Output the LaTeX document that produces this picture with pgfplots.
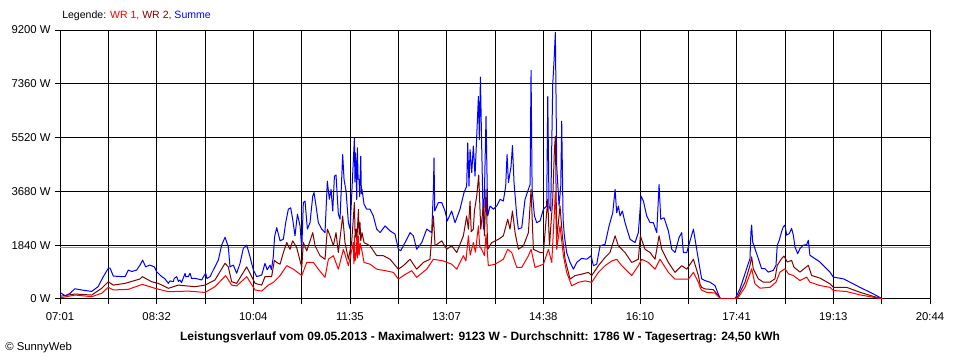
\documentclass[border=0pt]{standalone}
\usepackage{fontspec}
\setmainfont{Liberation Sans}
\usepackage{pgfplots}
\pgfplotsset{compat=1.18}
\definecolor{wrone}{RGB}{255,0,0}
\definecolor{wrtwo}{RGB}{128,0,0}
\definecolor{summe}{RGB}{0,0,255}
\definecolor{avg}{RGB}{150,150,150}
\begin{document}
\fontsize{8.5pt}{10pt}\selectfont
\begin{tikzpicture}
\path[use as bounding box] (0,0) rectangle (720pt,270pt);
\begin{axis}[
  at={(45pt,45.75pt)}, anchor=south west,
  scale only axis, width=652.5pt, height=201.75pt,
  xmin=0, xmax=823, ymin=0, ymax=9200,
  xtick={0,45.72,91.44,137.17,182.89,228.61,274.33,320.06,365.78,411.5,457.22,502.94,548.67,594.39,640.11,685.83,731.56,777.28,823},
  xticklabels={07:01,{},08:32,{},10:04,{},11:35,{},13:07,{},14:38,{},16:10,{},17:41,{},19:13,{},20:44},
  ytick={0,1840,3680,5520,7360,9200},
  yticklabels={0 W,1840 W,3680 W,5520 W,7360 W,9200 W},
  grid=major, major grid style={black, line width=0.75pt},
  axis line style={black, line width=0.75pt},
  tick align=outside, major tick length=4pt, tick style={black, line width=0.75pt},
  tick pos=left,
  tick label style={font=\fontsize{8.5pt}{10pt}\selectfont},
  xticklabel style={yshift=-3pt},
  every axis plot/.append style={line width=0.75pt, mark=none, line join=round},
]
\addplot[avg, line width=0.6pt, yshift=-0.6pt] coordinates {(0,1786) (823,1786)};
% Summe
\addplot[summe] coordinates {
(1,200)(5,110)(9.5,195)(14,350)(22,300)(30,260)(36,420)(41,765)(45.7,1050)(47.3,1060)(50.4,785)(56,770)(61.5,765)(64.6,990)(68,940)(72.5,990)(75.7,1160)(78.2,1330)(81,1100)(85,1160)(89.2,1100)(91.4,935)(96.2,765)(99,700)(102.5,535)(104,620)(107.2,590)(108,700)(110.4,765)(112,600)(113.5,650)(115,560)(118.3,880)(119,760)(121.4,765)(123,880)(124.5,700)(127.7,705)(131,680)(134,650)(136,780)(137.8,880)(139,700)(141.9,765)(145,990)(149.8,1330)(152.9,1845)(156.1,2110)(159.2,1790)(160.8,1100)(164,1160)(167.1,880)(170.3,1220)(173.4,1730)(176.6,1845)(179.7,1450)(182.9,990)(186.1,765)(190.8,820)(193.9,1220)(196,1000)(198.7,1160)(200,1000)(201.8,1450)(203,2130)
(205,2440)(208.2,1990)(211.3,2045)(213.5,2610)(216,3070)(218.2,3120)(220.1,2730)(222.3,2160)(224.6,2900)(227.1,2500)(228.7,1700)(230.2,3300)(231.8,3350)(234,2390)(236.5,2610)(239.1,3520)(240.3,3640)(242.2,3180)(244.4,2610)(247.6,2390)(250.7,2270)(252.9,4030)(254.8,3410)(256.4,3750)(258,3010)(259.6,4200)(261.1,4240)(263.3,2900)(264.9,2730)(267.4,4940)(268.7,4090)(270.6,3690)(272.8,2610)(274.4,2390)(275.9,3520)(278.5,5510)(279,4000)(279.5,5000)(280.1,4430)(280.7,3400)(281.3,5170)(282,4100)(282.9,4090)(283.5,3500)(284.5,4880)(285.1,3600)(285.7,3750)(287.6,3240)(290.1,3070)(293.3,3070)(296.4,2840)(299.6,2390)(302.8,2270)(307.5,2500)(312.2,2330)(316.9,2220)(320.1,1700)(322.3,1650)(326.4,1930)(331.1,2270)(334.3,2160)(337.4,1700)(342.2,1930)(346.9,2390)(351.6,2270)(353.2,3690)(353.8,4830)(354.5,3010)(357.9,3300)(361.1,3300)(364.2,3010)(366.4,2670)(370.5,3010)(373.7,2610)(378.4,3070)(382.2,3640)(384.7,3860)(385.7,5340)(386.9,3860)(387.9,5110)(389.5,4320)(391,5230)(392.6,4200)(394.2,5570)(395.8,6930)(396.7,5450)(397.7,7590)(398.9,5230)(400.5,2390)(401.5,3640)
(403,6250)(404.6,2840)(406.8,3180)(410,3070)(413.1,3180)(416.3,3410)(419.4,3350)(421.6,3860)(422.9,4940)(424.2,3980)(426.7,4540)(428,5250)(429.5,3980)(432.1,2840)(433.6,2390)(436.8,2440)(439.9,3410)(443.1,3750)(444.7,3920)(445.6,7820)(446.6,3750)(448.8,2840)(451,2610)(454.1,2670)(457.3,3070)(460.4,3180)(461.4,6930)(462.6,3180)(464.2,3010)(466.1,7330)(467.4,8180)(468.6,9123)(469.9,4540)(472.1,3180)(473.7,3860)(474.6,6080)(475.9,2730)(477.1,2160)(479.3,1590)(482.5,1250)(485.7,1020)(488.8,1250)(493.5,1390)(498.3,1360)(502.4,1480)(504.6,1140)(507.7,1190)(510.9,1820)(515.6,1870)(519.4,2500)(522.9,2950)(525.1,3750)(526.6,2950)(528.2,3180)(529.8,2840)(532,3010)(534.5,2610)(539.3,2040)(544,1930)(547.1,2270)(549.7,3520)(551.9,3350)(555,2840)(558.2,2610)(561.3,2610)(564.5,2270)(566.7,3920)(568.3,2730)(571.4,2780)(575.5,2330)(578.7,1700)(581.8,1590)(585.6,2100)(588.1,2270)(589.7,1590)(592.9,1590)(596,1990)(599.2,2390)(602.3,1700)(605.5,1000)
(607,690)(610.1,630)(614.9,575)(619.6,460)(622.7,170)(624.9,0)(638.5,0)(640.1,115)(643.2,345)(646.4,690)(649.5,1035)(652.7,1380)(653.6,2300)(654.3,2530)(655.2,1955)(657.4,1725)(660.6,1380)(663.7,1035)(666.9,1035)(670,920)(674.8,980)(677.3,1150)(678.5,1840)(680.4,2010)(682.6,2300)(684.2,2470)(685.8,2530)(687.4,2185)(689.9,2240)(692.1,2415)(693.7,2185)(695.3,1780)(697.8,1550)(700,1725)(703.1,1840)(706.3,1860)(707.9,2010)(709.4,1495)(714.2,1380)(718.9,1265)(723.6,1090)(728.4,920)(731.5,750)(741,690)(747.3,575)(756.7,400)(766.2,230)(772.5,115)(778.2,0)
};
% WR 2
\addplot[wrtwo] coordinates {
(1,100)(14.2,170)(30,135)(39.4,365)(45.7,590)(50.4,475)(61.5,535)(75.7,685)(77.9,765)(86.7,590)(93,535)(102.5,365)(111.9,475)(127.7,420)(137.2,475)(146.6,650)(156.1,1220)(159.2,1100)(162.4,590)(167.1,535)(176.6,1100)(179.7,880)(184.5,535)(190.8,475)(193.9,765)(200.2,765)(202.8,1320)
(205,1250)(208.2,1190)(211.3,1590)(214.5,1930)(217.6,1700)(220.1,1990)(223.9,1760)(228.7,1080)(230.2,1930)(233.4,1650)(239.1,2270)(241.3,1820)(246,1480)(250.7,1360)(252.9,2390)(255.5,2160)(258.6,1820)(261.1,2270)(263.3,1590)(267.4,2840)(269.6,1930)(272.8,1360)(275.9,1930)(278.5,3300)(279.2,2100)(280.1,2390)(280.8,2000)(282.3,3070)(283,2200)(283.8,2610)(284.5,2000)(285.7,2270)(287.6,1930)(293.3,1820)(299.6,1480)(305.9,1480)(312.2,1360)(320.1,1020)(324.8,1140)(331.1,1360)(337.4,1020)(343.7,1250)(350,1360)(353.2,2840)(354.8,1820)(361.1,1990)(365.8,1700)(370.5,1820)(375.3,1590)(381.6,2160)(384.7,2840)(386.3,2390)(387.9,3350)(389,2300)(391,2390)(392,3000)(394.2,3520)(396.1,4240)(398,2390)(400.5,3180)(401.5,2160)
(403,3750)(404.6,1700)(408.4,1930)(414.7,2040)(419.4,2160)(423.5,2730)(425.7,2390)(428,3010)(430.5,2270)(433.6,1700)(438.4,1820)(443.1,2270)(445.6,3750)(447.8,1700)(454.1,1590)(457.3,1590)(461.4,3410)(463,1820)(466.1,3410)(467.7,5110)(468.6,5570)(469.9,2040)(473,3180)(475.2,2160)(477.8,1360)(482.5,680)(487.2,800)(493.5,850)(499.8,910)(503,800)(509.3,1140)(515.6,1420)(520.3,1590)(525.1,2160)(528.2,1820)(534.5,1590)(540.8,1250)(547.1,1360)(549,2160)(553.4,1700)(558.2,1590)(562.9,1360)(566.7,2160)(569.2,1700)(575.5,1250)(581.8,910)(588.1,1140)(592.9,1020)(599.2,1360)(603.9,800)(605.5,500)
(607,400)(610.1,345)(618,320)(622.7,115)(624.9,0)(638.5,0)(641.7,115)(648,575)(652.7,1150)(654.3,1440)(655.8,1035)(660.6,690)(665.3,575)(671.6,575)(676.3,690)(678.5,1150)(682.6,1380)(684.9,1470)(688,1265)(692.1,1320)(694.3,1090)(700,920)(704.7,1060)(707.9,1150)(711,805)(718.9,715)(728.4,520)(731.5,400)(744.1,400)(756.7,230)(769.4,90)(778.2,0)
};
% WR 1
\addplot[wrone] coordinates {
(1,45)(14.2,135)(30,80)(39.4,195)(45.7,400)(50.4,310)(64.6,330)(77.9,500)(89.9,365)(102.5,250)(121.4,270)(137.2,225)(146.6,420)(156.7,800)(162.4,475)(167.1,445)(176.6,765)(184.5,310)(190.8,270)(197.1,475)(201.9,570)
(208.2,800)(214.5,1140)(220.8,1020)(228.7,800)(233.4,1250)(239.7,1250)(244.4,1020)(250.7,740)(253.9,1360)(258.6,1480)(263.3,1020)(268.1,1700)(272.8,1140)(277.5,1930)(278,1200)(278.5,2160)(279,1300)(280.1,1480)(281,2160)(281.5,1400)(282.3,2160)(283,1500)(284,1900)(285.4,1700)(287.6,1250)(293.3,1190)(299.6,1020)(307.5,970)(315.4,910)(320.1,680)(324.8,800)(332.7,970)(337.4,740)(346.9,1020)(353.2,1360)(362.7,1300)(370.5,1190)(375.3,1020)(381.6,1480)(384,1300)(386.3,2160)(388,1500)(391,1930)(393,1600)(395.8,2500)(397,1800)(398.9,1700)(401.5,1480)
(403,2200)(405.2,1140)(411.6,1190)(419.4,1360)(423.5,1700)(427.3,1590)(432.1,1080)(436.8,1080)(443.1,1480)(445.6,1700)(449.4,1080)(457.3,1190)(462,1700)(465.2,1250)(468.6,3640)(469.9,1700)(473,2500)(476.2,1480)(479.3,910)(484.1,450)(490.4,570)(496.7,620)(503,570)(509.3,910)(515.6,1140)(521.9,1300)(526.6,1360)(531.4,1140)(540.8,800)(547.1,1140)(550.3,1360)(556.6,1250)(562.9,1020)(567.6,1360)(575.5,910)(581.8,680)(588.1,680)(594.4,680)(599.2,910)(603.9,570)(605.5,400)
(607,300)(611.7,230)(619.6,205)(624.9,0)(638.5,0)(641.7,60)(648,400)(652.7,860)(654.3,1035)(657.4,520)(662.2,370)(671.6,400)(677.3,575)(681.1,920)(685.8,1035)(689,860)(693.7,805)(700,630)(706.3,750)(709.4,575)(718.9,460)(728.4,400)(731.5,290)(744.1,255)(756.7,140)(769.4,60)(778.2,0)
};
\end{axis}
\node[anchor=west, inner sep=0pt, font=\fontsize{7.9pt}{9pt}\selectfont] at (46.5pt,258pt) {Legende: \textcolor{wrone}{WR 1,} \textcolor{wrtwo}{WR 2,} \textcolor{summe}{Summe}};
\node[inner sep=0pt, font=\fontsize{9pt}{11pt}\selectfont\bfseries] at (360pt,17.25pt) {Leistungsverlauf vom 09.05.2013 - Maximalwert: 9123 W - Durchschnitt: 1786 W - Tagesertrag: 24,50 kWh};
\node[anchor=west, inner sep=0pt] at (3.75pt,9pt) {\textcopyright\ SunnyWeb};
\end{tikzpicture}
\end{document}
